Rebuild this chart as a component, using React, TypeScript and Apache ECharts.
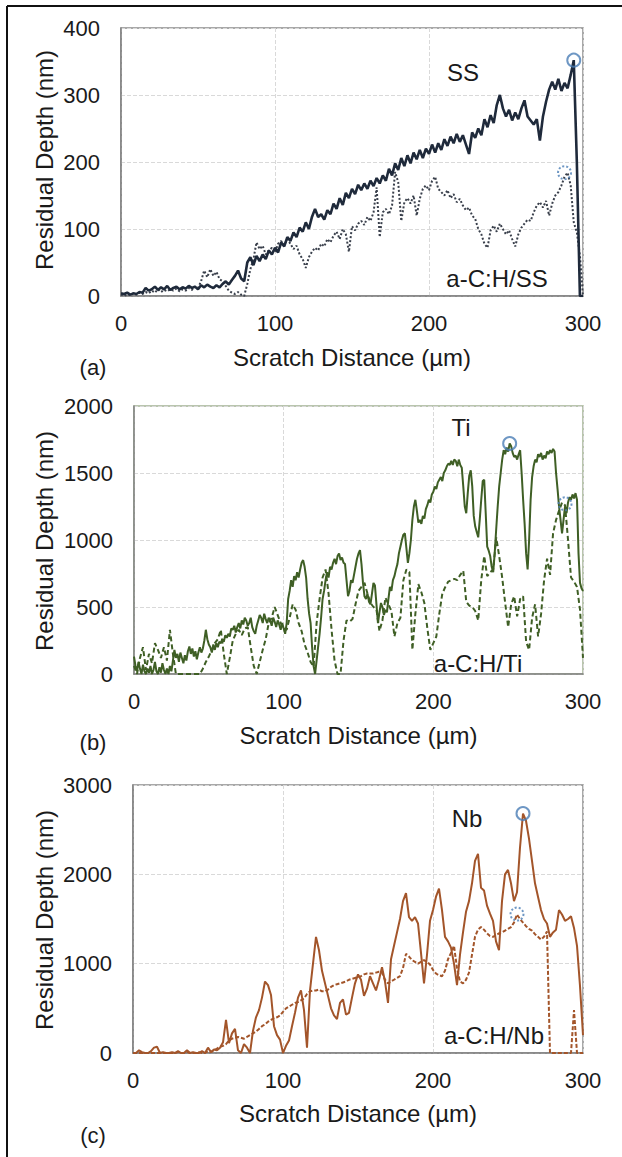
import React, { useEffect, useRef } from "react";
import * as echarts from "echarts";

// ---------- DATA ----------
const X_MIN = 0;
const X_MAX = 300;
const X_INTERVAL = 100;

const Y_MAX = [400, 2000, 3000];
const Y_INTERVAL = [100, 500, 1000];

const SUBSTRATES = ["SS", "Ti", "Nb"];
const COATINGS = ["a-C:H/SS", "a-C:H/Ti", "a-C:H/Nb"];
const PANEL_TAGS = ["(a)", "(b)", "(c)"];
const X_TITLE = "Scratch Distance (µm)";
const Y_TITLE = "Residual Depth (nm)";

// sampling step of each recorded profile (µm)
const SS_STEP = 2;
const SS_DEPTH = [
  4, 3, 5, 2, 4, 3, 6, 5, 12, 8,
  10, 14, 9, 13, 10, 15, 9, 12, 14, 10,
  13, 11, 15, 12, 14, 10, 16, 13, 17, 14,
  12, 16, 13, 18, 22, 17, 24, 30, 38, 26,
  22, 50, 58, 46, 60, 52, 62, 55, 68, 62,
  72, 65, 80, 74, 88, 82, 95, 88, 102, 96,
  110, 100, 118, 130, 118, 122, 114, 128, 122, 138,
  130, 146, 136, 154, 146, 160, 152, 166, 158, 168,
  160, 172, 164, 176, 168, 180, 172, 190, 180, 198,
  188, 206, 194, 210, 198, 214, 204, 218, 206, 220,
  212, 226, 214, 228, 218, 234, 224, 238, 228, 242,
  230, 240, 226, 212, 244, 236, 250, 240, 264, 252,
  270, 258, 285, 300, 280, 268, 278, 262, 274, 264,
  280, 292, 268, 262, 256, 264, 232, 268, 290, 308,
  320, 308, 324, 306, 318, 310, 330, 352, 200, 0,
  0,
];

const SS_COAT_STEP = 2;
const SS_COAT_DEPTH = [
  2, 0, 3, 1, 4, 2, 5, 3, 6, 4,
  8, 5, 10, 6, 9, 7, 10, 8, 11, 7,
  10, 8, 12, 9, 14, 12, 22, 38, 28, 40,
  30, 36, 25, 22, 15, 8, 5, 3, 6, 2,
  0, 18, 40, 55, 80, 70, 75, 62, 68, 72,
  65, 78, 82, 76, 85, 78, 70, 75, 62, 55,
  42, 58, 66, 72, 68, 78, 74, 85, 80, 90,
  96, 85, 100, 92, 66, 104, 98, 108, 112, 106,
  118, 112, 125, 162, 88, 125, 130, 122, 135, 185,
  170, 112, 140, 146, 138, 150, 120, 145, 160, 165,
  158, 172, 178, 160, 155, 150, 158, 146, 152, 140,
  145, 135, 128, 132, 120, 115, 100, 92, 78, 72,
  98, 105, 96, 108, 100, 92, 98, 85, 74, 92,
  102, 108, 114, 112, 125, 135, 140, 132, 142, 120,
  138, 150, 155, 165, 178, 184, 165, 110, 95, 60,
  0,
];

const TI_STEP = 1;
const TI_DEPTH = [
  130, 60, 20, 90, 40, 0, 70, 20, 0, 40,
  10, 60, 0, 30, 90, 20, 0, 50, 10, 80,
  30, 0, 40, 0, 60, 20, 100, 180, 120, 150,
  90, 160, 120, 80, 140, 100, 170, 205, 150, 190,
  130, 170, 110, 160, 200, 160, 190, 250, 330, 260,
  220, 200, 160, 220, 180, 230, 200, 240, 230, 260,
  240, 290, 270, 300, 280, 340, 330, 360, 310, 350,
  380, 340, 400, 370, 420, 400, 360, 380, 420, 350,
  320, 300, 360, 400, 440, 420, 380, 450, 410, 380,
  420, 400, 360, 420, 390, 350, 400, 370, 330, 380,
  340, 300, 380, 560, 620, 700, 650, 730, 700, 760,
  720, 780, 830, 850, 800, 720, 560, 450, 380, 200,
  60, 0, 100, 200, 300, 420, 560, 620, 700, 760,
  720, 800, 780, 830, 860, 820, 880, 900, 850, 870,
  830, 820, 700, 580, 620, 700, 680, 740, 800, 860,
  900, 925, 820, 680, 580, 560, 600, 540, 520, 600,
  680, 660, 520, 380, 460, 530, 500, 440, 480, 460,
  560, 650, 620, 700, 730, 780, 820, 900, 950, 1000,
  1040, 1050, 940, 830, 900, 1000, 1150, 1250, 1300, 1220,
  1130, 1150, 1120, 1180, 1160, 1230, 1260, 1300, 1280, 1340,
  1360, 1400, 1380, 1430, 1450, 1470, 1440, 1500, 1520, 1550,
  1570, 1560, 1590, 1560, 1600, 1590, 1550, 1600, 1560, 1540,
  1400, 1250, 1200, 1350, 1480, 1520, 1400, 1180, 1100, 1060,
  1020, 1150, 1300, 1440, 1450, 1200, 950, 920, 880, 800,
  760, 900, 1080, 1250, 1400, 1500, 1600, 1670, 1640, 1690,
  1660, 1720, 1700, 1650, 1620, 1630, 1600, 1640, 1670, 1500,
  1300, 1120, 900, 780, 1000, 1300, 1470, 1550, 1600, 1580,
  1640, 1620, 1650, 1600, 1630, 1610, 1660, 1640, 1670, 1650,
  1680, 1660, 1500, 1380, 1250, 1150, 1050, 1150, 1250, 1200,
  1280, 1320, 1300, 1340, 1310, 1350, 1300, 900, 680, 640,
  620,
];

const TI_COAT_STEP = 2;
const TI_COAT_DEPTH = [
  60, 0, 120, 200, 30, 150, 80, 230, 180, 120,
  200, 100, 330, 150, 0, 0, 0, 0, 0, 0,
  0, 0, 0, 40, 90, 130, 180, 230, 260, 330,
  150, 0, 120, 250, 300, 330, 290, 340, 350, 200,
  60, 0, 90, 180, 260, 380, 420, 500, 440, 380,
  340, 330, 420, 520, 480, 380, 320, 220, 160, 90,
  55, 380, 560, 720, 780, 600, 330, 100, 0, 0,
  250, 400, 390, 410, 520, 620, 650, 680, 600, 530,
  500, 480, 320, 400, 570, 520, 470, 280, 380, 420,
  700, 780, 760, 180, 450, 670, 610, 530, 340, 180,
  230, 280, 450, 600, 650, 690, 700, 710, 700, 740,
  770, 540, 510, 500, 470, 400, 700, 880, 730, 760,
  780, 1020, 880, 720, 530, 350, 520, 580, 430, 560,
  580, 240, 180, 420, 520, 280, 450, 700, 860, 740,
  1050, 1150, 1220, 1280, 1260, 1000, 720, 690, 650, 480,
  120,
];

const NB_STEP = 2;
const NB_DEPTH = [
  0, 0, 30, 10, 0, 0, 20, 60, 70, 0,
  10, 0, 0, 10, 0, 20, 0, 0, 30, 0,
  10, 0, 0, 20, 0, 60, 10, 40, 30, 60,
  120, 370, 110, 220, 270, 30, 0, 100, 60, 0,
  250, 400, 480, 620, 800, 760, 650, 300, 200, 150,
  0, 80, 140, 300, 450, 620, 700, 480, 60, 700,
  1000, 1300, 1150, 920, 780, 640, 500, 420, 380, 560,
  600, 430, 450, 620, 780, 880, 820, 640, 720, 860,
  780, 700, 820, 960, 800, 560, 1050, 1200, 1350, 1500,
  1700, 1790, 1520, 1480, 1520, 1450, 1120, 780, 1100, 1480,
  1600, 1750, 1840, 1600, 1300, 1250, 1180, 1000, 760, 1100,
  1350, 1580, 1700, 1900, 2150, 2230, 1850, 1820, 1650, 1560,
  1480, 1250, 1150, 1700, 2000, 2050, 1900, 1700, 1800, 2300,
  2680, 2600, 2400, 2150, 1900, 1750, 1600, 1500, 1450, 1300,
  1350, 1380, 1600, 1550, 1480, 1500, 1530, 1400, 1200, 750,
  200,
];

const NB_COAT_STEP = 2;
const NB_COAT_DEPTH = [
  0, 0, 0, 0, 0, 0, 0, 0, 0, 0,
  0, 0, 0, 0, 0, 10, 0, 0, 10, 0,
  0, 0, 10, 0, 0, 20, 10, 30, 50, 70,
  80, 100, 140, 160, 170, 180, 170, 160, 180, 200,
  220, 240, 270, 300, 320, 350, 370, 390, 400, 420,
  460, 500, 520, 540, 560, 570, 590, 610, 660, 690,
  700, 700, 710, 690, 690, 710, 740, 760, 770, 780,
  790, 800, 820, 830, 840, 850, 860, 880, 890, 890,
  890, 900, 910, 900, 820, 780, 800, 820, 840, 860,
  950, 1110, 1080, 1040, 1020, 1000, 1020, 1040, 1020, 990,
  930, 890, 870, 860, 920, 1050, 1120, 1200, 950, 800,
  780, 820, 900, 1100, 1300, 1380, 1410, 1380, 1340, 1310,
  1300, 1320, 1340, 1350, 1370, 1390, 1410, 1460, 1550, 1500,
  1460, 1420, 1390, 1370, 1330, 1300, 1270, 1300, 1360, 0,
  0, 0, 0, 0, 0, 0, 0, 480, 0, 0,
  0,
];

// marked failure points [distance µm, depth nm]
const SS_MARK = [294, 352];
const SS_COAT_MARK = [288, 184];
const TI_MARK = [251, 1720];
const TI_COAT_MARK = [288, 1270];
const NB_MARK = [260, 2680];
const NB_COAT_MARK = [256, 1555];

// ---------- STYLE ----------
const FONT = "'Liberation Sans', Arial, Helvetica, sans-serif";
const TEXT = "#1a1a1a";
const MARK_BLUE = "#4a7db5";

const pairs = (vals: number[], step: number) => vals.map((v, i) => [i * step, v]);

function buildOption() {
  const grids = [
    { left: 121, top: 28, width: 462, height: 268 },
    { left: 134, top: 406, width: 449, height: 268 },
    { left: 133, top: 785, width: 450, height: 268 },
  ];
  const borderColors = ["#8c8c8c", "#a3b394", "#8c8c8c"];

  const subs = [
    { data: pairs(SS_DEPTH, SS_STEP), color: "#1f2a3b", width: 2.6 },
    { data: pairs(TI_DEPTH, TI_STEP), color: "#3f5f25", width: 2 },
    { data: pairs(NB_DEPTH, NB_STEP), color: "#a3552a", width: 2 },
  ];
  const coats = [
    { data: pairs(SS_COAT_DEPTH, SS_COAT_STEP), color: "#3a404c", width: 2, type: "dotted" as any },
    { data: pairs(TI_COAT_DEPTH, TI_COAT_STEP), color: "#3f5f25", width: 2, type: [5, 3] as any },
    { data: pairs(NB_COAT_DEPTH, NB_COAT_STEP), color: "#a3552a", width: 2, type: [4, 2] as any },
  ];
  const marks = [
    [SS_MARK, SS_COAT_MARK],
    [TI_MARK, TI_COAT_MARK],
    [NB_MARK, NB_COAT_MARK],
  ];

  const series: any[] = [];
  grids.forEach((_, i) => {
    series.push({
      type: "line",
      name: COATINGS[i],
      xAxisIndex: i,
      yAxisIndex: i,
      data: coats[i].data,
      showSymbol: false,
      symbol: "none",
      lineStyle: { color: coats[i].color, width: coats[i].width, type: coats[i].type },
      z: 2,
    });
    series.push({
      type: "line",
      name: SUBSTRATES[i],
      xAxisIndex: i,
      yAxisIndex: i,
      data: subs[i].data,
      showSymbol: false,
      symbol: "none",
      lineStyle: { color: subs[i].color, width: subs[i].width, type: "solid" },
      z: 3,
    });
    series.push({
      type: "scatter",
      xAxisIndex: i,
      yAxisIndex: i,
      data: [marks[i][0]],
      symbol: "circle",
      symbolSize: 13,
      itemStyle: { color: "rgba(0,0,0,0)", borderColor: MARK_BLUE, borderWidth: 2 },
      z: 5,
    });
    series.push({
      type: "scatter",
      xAxisIndex: i,
      yAxisIndex: i,
      data: [marks[i][1]],
      symbol: "circle",
      symbolSize: 13,
      itemStyle: { color: "rgba(0,0,0,0)", borderColor: MARK_BLUE, borderWidth: 2, borderType: "dotted" },
      z: 5,
    });
  });

  const graphic: any[] = [
    { type: "line", shape: { x1: 7, y1: 6, x2: 622, y2: 6 }, style: { stroke: "#111", lineWidth: 2 } },
    { type: "line", shape: { x1: 7, y1: 6, x2: 7, y2: 1157 }, style: { stroke: "#111", lineWidth: 2 } },
  ];
  const yTitleY = [160, 541, 920];
  const xTitleY = [357, 735, 1113];
  const tagY = [367, 742, 1135];
  const subPos = [
    [463, 72],
    [461, 427],
    [467, 818],
  ];
  const coatPos = [
    [497, 278],
    [478, 663],
    [494, 1035],
  ];
  grids.forEach((g, i) => {
    graphic.push({
      type: "text",
      x: 44,
      y: yTitleY[i],
      rotation: Math.PI / 2,
      style: { text: Y_TITLE, fontSize: 24, fontFamily: FONT, fill: TEXT, align: "center", verticalAlign: "middle" },
    });
    graphic.push({
      type: "text",
      x: g.left + g.width / 2,
      y: xTitleY[i],
      style: { text: X_TITLE, fontSize: 24, fontFamily: FONT, fill: TEXT, align: "center", verticalAlign: "middle" },
    });
    graphic.push({
      type: "text",
      x: 93,
      y: tagY[i],
      style: { text: PANEL_TAGS[i], fontSize: 22, fontFamily: FONT, fill: TEXT, align: "center", verticalAlign: "middle" },
    });
    graphic.push({
      type: "text",
      x: subPos[i][0],
      y: subPos[i][1],
      z: 10,
      style: { text: SUBSTRATES[i], fontSize: 24, fontFamily: FONT, fill: TEXT, align: "center", verticalAlign: "middle" },
    });
    graphic.push({
      type: "text",
      x: coatPos[i][0],
      y: coatPos[i][1],
      z: 10,
      style: { text: COATINGS[i], fontSize: 24, fontFamily: FONT, fill: TEXT, align: "center", verticalAlign: "middle" },
    });
  });

  const plain = (v: number) => String(v);

  return {
    animation: false,
    backgroundColor: "#ffffff",
    grid: grids.map((g, i) => ({
      ...g,
      show: true,
      borderColor: borderColors[i],
      borderWidth: 1.5,
      backgroundColor: "transparent",
      containLabel: false,
    })),
    xAxis: grids.map((_, i) => ({
      type: "value",
      gridIndex: i,
      min: X_MIN,
      max: X_MAX,
      interval: X_INTERVAL,
      axisLine: { show: true, onZero: false, lineStyle: { color: "#808080", width: 1.5 } },
      axisTick: { show: false },
      axisLabel: { fontSize: 22, fontFamily: FONT, color: TEXT, margin: 16, showMinLabel: true, showMaxLabel: true, formatter: plain },
      splitLine: { show: true, lineStyle: { type: "dashed", color: "#d9d9d9", width: 1 } },
    })),
    yAxis: grids.map((_, i) => ({
      type: "value",
      gridIndex: i,
      min: 0,
      max: Y_MAX[i],
      interval: Y_INTERVAL[i],
      axisLine: { show: true, onZero: false, lineStyle: { color: "#808080", width: 1.5 } },
      axisTick: { show: false },
      axisLabel: { fontSize: 22, fontFamily: FONT, color: TEXT, margin: 21, showMinLabel: true, showMaxLabel: true, formatter: plain },
      splitLine: { show: true, lineStyle: { type: "dashed", color: "#d9d9d9", width: 1 } },
    })),
    series,
    graphic,
  };
}

export default function App() {
  const ref = useRef<HTMLDivElement>(null);
  useEffect(() => {
    if (!ref.current) return;
    const chart = echarts.init(ref.current, undefined, { renderer: "svg" });
    chart.setOption(buildOption() as any);
    return () => chart.dispose();
  }, []);
  return (
    <div
      ref={ref}
      style={{ position: "absolute", left: 0, top: 0, width: 622, height: 1157, background: "#fff" }}
    />
  );
}
